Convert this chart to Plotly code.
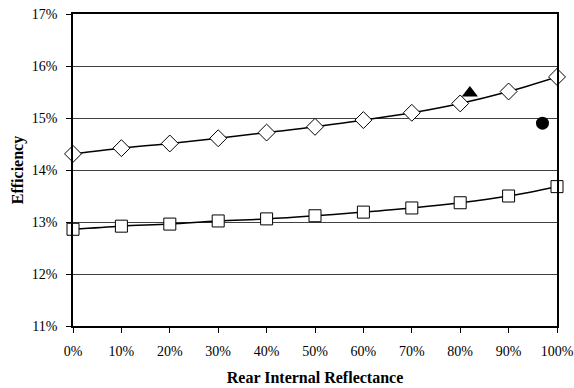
import plotly.graph_objects as go

x_vals = [0, 10, 20, 30, 40, 50, 60, 70, 80, 90, 100]
diamond_vals = [14.31, 14.42, 14.51, 14.61, 14.72, 14.83, 14.96, 15.10, 15.28, 15.51, 15.79]
square_vals = [12.86, 12.92, 12.96, 13.02, 13.06, 13.12, 13.19, 13.27, 13.37, 13.50, 13.68]
triangle_x = [82]
triangle_y = [15.48]
circle_x = [97]
circle_y = [14.90]
y_ticks = [11, 12, 13, 14, 15, 16, 17]
x_ticks = [0, 10, 20, 30, 40, 50, 60, 70, 80, 90, 100]

font = "Liberation Serif"

fig = go.Figure()
fig.add_trace(go.Scatter(
    x=x_vals, y=diamond_vals, mode="lines+markers",
    line=dict(color="black", width=1.5, shape="spline"),
    marker=dict(symbol="diamond", size=13, color="white", line=dict(color="black", width=1)),
    showlegend=False, cliponaxis=False))
fig.add_trace(go.Scatter(
    x=x_vals, y=square_vals, mode="lines+markers",
    line=dict(color="black", width=1.5, shape="spline"),
    marker=dict(symbol="square", size=12, color="white", line=dict(color="black", width=1)),
    showlegend=False, cliponaxis=False))
fig.add_trace(go.Scatter(
    x=triangle_x, y=triangle_y, mode="markers",
    marker=dict(symbol="triangle-up", size=14, color="black"),
    showlegend=False))
fig.add_trace(go.Scatter(
    x=circle_x, y=circle_y, mode="markers",
    marker=dict(symbol="circle", size=13, color="black"),
    showlegend=False))

fig.update_layout(
    width=574, height=388,
    margin=dict(l=73, r=17, t=14, b=62),
    paper_bgcolor="white", plot_bgcolor="white",
    font=dict(family=font, size=14, color="black"),
    xaxis=dict(
        range=[0, 100], tickvals=x_ticks,
        ticktext=[f"{v}%" for v in x_ticks],
        showgrid=False, zeroline=False, automargin=False,
        showline=True, linecolor="black", linewidth=1.5, mirror=True,
        ticks="outside", ticklen=5, tickcolor="black", ticklabelstandoff=6,
        title=dict(text="<b>Rear Internal Reflectance</b>", font=dict(size=16), standoff=14),
    ),
    yaxis=dict(
        range=[11, 17], tickvals=y_ticks,
        ticktext=[f"{v}%" for v in y_ticks],
        showgrid=True, gridcolor="#404040", gridwidth=1, zeroline=False, automargin=False,
        showline=True, linecolor="black", linewidth=1.5, mirror=True,
        ticks="outside", ticklen=5, tickcolor="black", ticklabelstandoff=6,
        title=dict(text="<b>Efficiency</b>", font=dict(size=16), standoff=4),
    ),
)

fig.write_html("out.html")
